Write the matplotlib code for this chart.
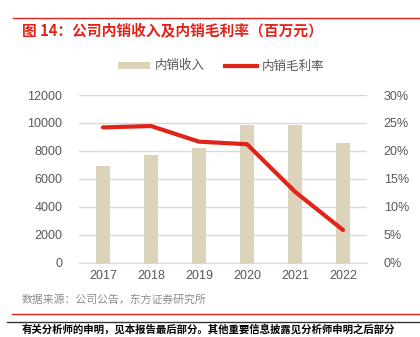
import matplotlib
matplotlib.use("Agg")
import matplotlib.pyplot as plt
from matplotlib.lines import Line2D
from matplotlib.patches import Patch

plt.rcParams['font.family'] = ['Liberation Sans', 'Noto Sans CJK SC', 'DejaVu Sans']

years = ['2017', '2018', '2019', '2020', '2021', '2022']
revenue = [6920, 7710, 8190, 9850, 9830, 8570]
margin = [24.2, 24.45, 21.65, 21.2, 12.7, 5.85]
left_ticks = [0, 2000, 4000, 6000, 8000, 10000, 12000]
right_ticks = [0, 5, 10, 15, 20, 25, 30]

W, H = 420, 337
fig = plt.figure(figsize=(W/100, H/100), dpi=100)

def fx(px): return px / W
def fy(py): return 1 - py / H

ax = fig.add_axes([fx(79), fy(262.7), fx(367) - fx(79), fy(95) - fy(262.7)])
ax2 = ax.twinx()

x = list(range(len(years)))
bar_color = '#ddd3bb'
line_color = '#e2231a'
tick_color = '#595959'

ax.set_axisbelow(True)
ax.bar(x, revenue, width=0.31, color=bar_color, zorder=2)
ax.set_ylim(0, 12000)
ax.set_xlim(-0.5, 5.5)
ax.set_yticks(left_ticks)
ax.set_yticklabels([str(v) for v in left_ticks])
ax.set_xticks(x)
ax.set_xticklabels(years)
ax.grid(axis='y', color='#d9d9d9', linewidth=1.0, zorder=0)
for s in ax.spines.values():
    s.set_visible(False)
for s in ax2.spines.values():
    s.set_visible(False)
ax.spines['bottom'].set_visible(True)
ax.spines['bottom'].set_color('#d9d9d9')
ax.tick_params(axis='both', length=0, labelsize=9, colors=tick_color, pad=5)
ax.tick_params(axis='y', pad=12)

ax2.plot(x, margin, color=line_color, linewidth=3.0, solid_capstyle='round', zorder=3)
ax2.set_ylim(0, 30)
ax2.set_yticks(right_ticks)
ax2.set_yticklabels([f'{v}%' for v in right_ticks])
ax2.tick_params(axis='y', length=0, labelsize=9, colors=tick_color, pad=12)

# Legend
handles = [Patch(facecolor=bar_color, edgecolor='none'),
           Line2D([0], [0], color=line_color, linewidth=3.0)]
fig.legend(handles, ['内销收入', '内销毛利率'], loc='center',
           bbox_to_anchor=(fx(221), fy(66)), ncol=2, frameon=False,
           fontsize=9, handlelength=2.6, handleheight=0.5, columnspacing=1.6,
           handletextpad=0.35, labelcolor=tick_color,
           prop={'family': ['Noto Sans CJK SC'], 'size': 9})

# Title and decorations
fig.add_artist(Line2D([fx(13), 1], [fy(18), fy(18)], color='#e2231a', linewidth=1.0))
fig.text(fx(22), fy(30), '图 14：公司内销收入及内销毛利率（百万元）', color='#e2231a',
         fontsize=10.6, fontweight='bold', va='center', ha='left',
         family=['Noto Sans CJK SC', 'DejaVu Sans'])
fig.text(fx(22), fy(300), '数据来源：公司公告，东方证券研究所', color='#8c8c8c',
         fontsize=7.8, va='center', ha='left', family=['Noto Sans CJK SC', 'DejaVu Sans'])
fig.add_artist(Line2D([fx(12), 1], [fy(314), fy(314)], color='#e2231a', linewidth=1.0))
fig.add_artist(Line2D([fx(7), 1], [fy(321.5), fy(321.5)], color='#333333', linewidth=1.0))
fig.text(fx(22), fy(329.5), '有关分析师的申明，见本报告最后部分。其他重要信息披露见分析师申明之后部分',
         color='#000000', fontsize=7.5, fontweight='bold', va='center', ha='left',
         family=['Noto Sans CJK SC', 'DejaVu Sans'])

fig.savefig('out.png', dpi=100)
